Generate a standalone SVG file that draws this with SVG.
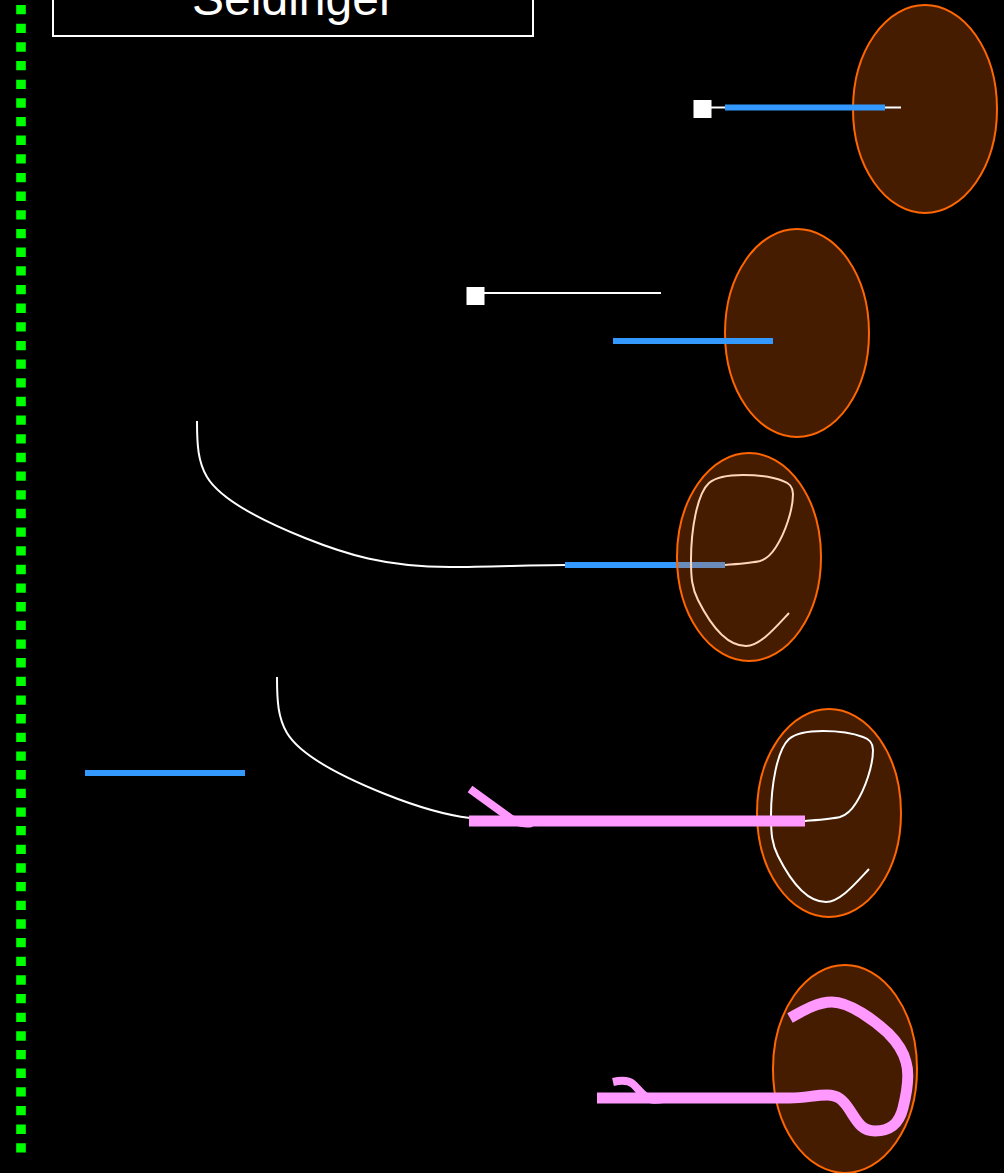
<svg xmlns="http://www.w3.org/2000/svg" width="1004" height="1173" viewBox="0 0 1004 1173">
  <style>
    text { font-family: "Liberation Sans", Arial, sans-serif; fill: #fff; }
    .vessel { fill: #ff6600; fill-opacity: .27; stroke: #ff6600; stroke-width: 2; }
    .vessel-solid { fill: #451c00; stroke: #ff6600; stroke-width: 2; }
    .wire { fill: none; stroke: #fff; stroke-width: 2; }
    .dilator { fill: none; stroke: #3399ff; stroke-width: 6; }
    .sheath { fill: none; stroke: #ff99ff; stroke-width: 11; }
    .sheath-port { fill: none; stroke: #ff99ff; stroke-width: 8; }
    .needle-hub { fill: #fff; }
  </style>
  <defs>
    <!-- Guidewire coil inside the vessel, from the entry point to its tip -->
    <path id="coil" class="wire" d="M725 565C737 564 752 563 760 561C767 559 771 555 776 547C785 533 793 510 793 494C793 486 789 483 783 481C770 476 757 475 743 475C730 475 716 477 709 483C697 494 691 530 691 560C691 578 692 588 698 600C704 612 722 646 746 646C760 646 775 628 789 613"/>
  </defs>
  <rect width="1004" height="1173" fill="#000"/>

  <line id="divider" x1="21" y1="5" x2="21" y2="1153.3" stroke="#00ff00" stroke-width="9.6" stroke-dasharray="9.33 9.33"/>

  <g id="title">
    <rect x="53" y="-40" width="480" height="76" fill="none" stroke="#fff" stroke-width="2"/>
    <text x="293.5" y="15" font-size="48" text-anchor="middle">Seidinger</text>
  </g>

  <g id="step-1">
    <ellipse class="vessel-solid" cx="925" cy="109" rx="72" ry="104"/>
    <rect class="needle-hub" x="693.5" y="100" width="18" height="18"/>
    <line class="wire" x1="711" y1="107.5" x2="901" y2="107.5"/>
    <line class="dilator" x1="725" y1="107.5" x2="885" y2="107.5"/>
  </g>

  <g id="step-2">
    <ellipse class="vessel-solid" cx="797" cy="333" rx="72" ry="104"/>
    <rect class="needle-hub" x="466.5" y="287" width="18" height="18"/>
    <line class="wire" x1="484" y1="293" x2="661" y2="293"/>
    <line class="dilator" x1="613" y1="341" x2="773" y2="341"/>
  </g>

  <g id="step-3">
    <path class="wire" d="M197 421C197 445 198 462 207 477C222 502 270 524 305 538C345 554 385 567 450 567C490 567 530 565 565 565"/>
    <line class="dilator" x1="565" y1="565" x2="725" y2="565"/>
    <use href="#coil"/>
    <ellipse class="vessel" cx="749" cy="557" rx="72" ry="104"/>
  </g>

  <g id="step-4">
    <line class="dilator" x1="85" y1="773" x2="245" y2="773"/>
    <ellipse class="vessel-solid" cx="829" cy="813" rx="72" ry="104"/>
    <path class="wire" d="M277 677C277 701 278 718 287 733C302 758 350 780 385 794C415 806 445 815 470 818"/>
    <use href="#coil" transform="translate(80 256)"/>
    <path class="sheath-port" d="M470 789L510 818Q520 825 532 823"/>
    <line class="sheath" x1="469" y1="821" x2="805" y2="821"/>
  </g>

  <g id="step-5">
    <ellipse class="vessel-solid" cx="845" cy="1069" rx="72" ry="104"/>
    <path class="sheath-port" d="M613 1082C622 1080 628 1080 633 1084C639 1089 643 1098 652 1099.500Q657 1100 663 1099"/>
    <path class="sheath" d="M597 1098H790C805 1098 815 1095 827 1095C838 1095 843 1100 849 1109C857 1121 861 1131 875 1131C890 1131 899 1124 903 1108C907 1092 910 1075 906 1062C903 1050 897 1042 888 1033C875 1021 850 1002 832 1002C818 1002 804 1010 790 1018"/>
  </g>
</svg>
